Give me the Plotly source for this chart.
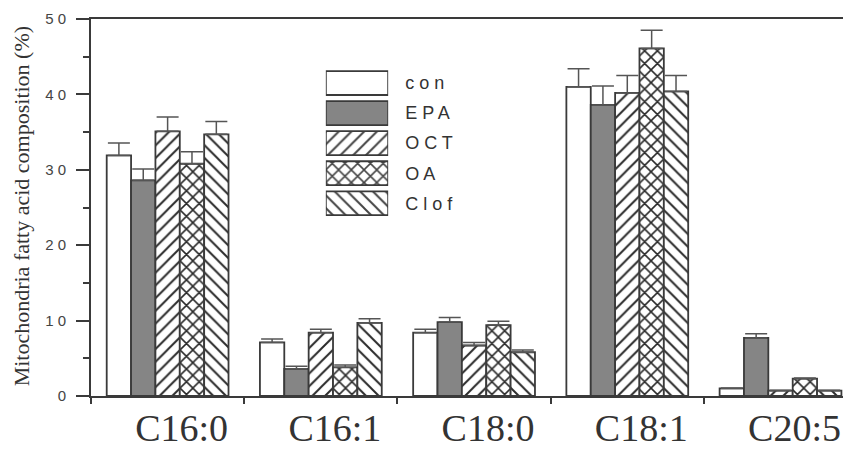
import plotly.graph_objects as go

categories = ["C16:0", "C16:1", "C18:0", "C18:1", "C20:5"]
series = ["con", "EPA", "OCT", "OA", "Clof"]

con = [31.9, 7.1, 8.4, 41.0, 1.0]
epa = [28.6, 3.6, 9.8, 38.6, 7.7]
oct_ = [35.1, 8.4, 6.7, 40.2, 0.7]
oa = [30.8, 3.8, 9.4, 46.1, 2.3]
clof = [34.7, 9.7, 5.8, 40.4, 0.7]

con_err = [1.65, 0.45, 0.45, 2.4, 0.05]
epa_err = [1.5, 0.35, 0.6, 2.5, 0.55]
oct_err = [1.9, 0.45, 0.4, 2.3, 0.05]
oa_err = [1.6, 0.3, 0.5, 2.4, 0.1]
clof_err = [1.7, 0.55, 0.3, 2.1, 0.05]

values = [con, epa, oct_, oa, clof]
errors = [con_err, epa_err, oct_err, oa_err, clof_err]
fills = ["white", "#858585", "white", "white", "white"]
shapes = ["", "", "/", "x", "\\"]
solid = [0.22, 0.22, 0.22, 0.32, 0.22]
y_ticks = [0, 10, 20, 30, 40, 50]
y_ticktext = [" ".join(str(t)) for t in y_ticks]
legend_labels = [" ".join(s) for s in series]

LINE = "#3a3a3a"
PAT = dict(fgcolor="#2a2a2a", fgopacity=1, bgcolor="white", size=9)

# page has an 8px body margin; figure is sized so its right/bottom edge meets the window
W, H = 843, 441

fig = go.Figure()
for name, vals, errs, fc, sh, so in zip(series, values, errors, fills, shapes, solid):
    fig.add_trace(go.Bar(
        x=categories, y=vals, name=name, showlegend=False,
        marker=dict(color=fc, line=dict(color=LINE, width=1.8),
                    pattern=dict(shape=sh, solidity=so, **PAT)),
        error_y=dict(type="data", array=errs, arrayminus=[0] * len(errs),
                     symmetric=False, color="#555555", thickness=1.5, width=11),
        xaxis="x", yaxis="y",
    ))

# legend keys drawn as a small bar chart on hidden axes
fig.add_trace(go.Bar(
    y=series, x=[1] * len(series), orientation="h", showlegend=False,
    marker=dict(color=fills, line=dict(color=LINE, width=1.8),
                pattern=dict(shape=shapes, solidity=solid, **PAT)),
    xaxis="x2", yaxis="y2", hoverinfo="skip",
))

fig.update_layout(
    width=W, height=H,
    margin=dict(l=83, r=0, t=11, b=53, autoexpand=False),
    paper_bgcolor="white", plot_bgcolor="white",
    barmode="group", bargap=0.205, bargroupgap=0,
    xaxis=dict(
        type="category", range=[-0.5, 4.46], automargin=False,
        showline=True, linecolor=LINE, linewidth=2, mirror=True,
        ticks="outside", tickson="boundaries", ticklen=6, tickwidth=2, tickcolor=LINE,
        showgrid=False, zeroline=False,
        tickfont=dict(family="Liberation Serif", size=38, color="#333333"),
        ticklabelshift=14, ticklabelstandoff=-3,
    ),
    yaxis=dict(
        range=[0, 50], tickvals=y_ticks, ticktext=y_ticktext, automargin=False,
        showline=True, linecolor=LINE, linewidth=2,
        ticks="outside", ticklen=13, tickwidth=2, tickcolor=LINE,
        minor=dict(ticks="outside", ticklen=6, tickwidth=2, tickcolor=LINE, dtick=5, tick0=5),
        showgrid=False, zeroline=False,
        tickfont=dict(family="Liberation Sans", size=15, color="#444444"),
        ticklabelstandoff=7,
    ),
    xaxis2=dict(domain=[0.309, 0.391], range=[0, 1], visible=False, anchor="y2",
                automargin=False),
    yaxis2=dict(domain=[0.4714, 0.870], autorange="reversed", anchor="x2", type="category",
                side="right", showline=False, ticks="", showgrid=False, automargin=False,
                tickvals=series, ticktext=legend_labels, ticklabelstandoff=16,
                tickfont=dict(family="Liberation Sans", size=18, color="#333333")),
    annotations=[dict(
        text="Mitochondria fatty acid composition (%)", textangle=-90,
        xref="paper", yref="paper", x=(21 - 91) / 760, y=0.503,
        xanchor="center", yanchor="middle", showarrow=False,
        font=dict(family="Liberation Serif", size=22, color="#333333"),
    )],
)
fig.write_html("out.html")
